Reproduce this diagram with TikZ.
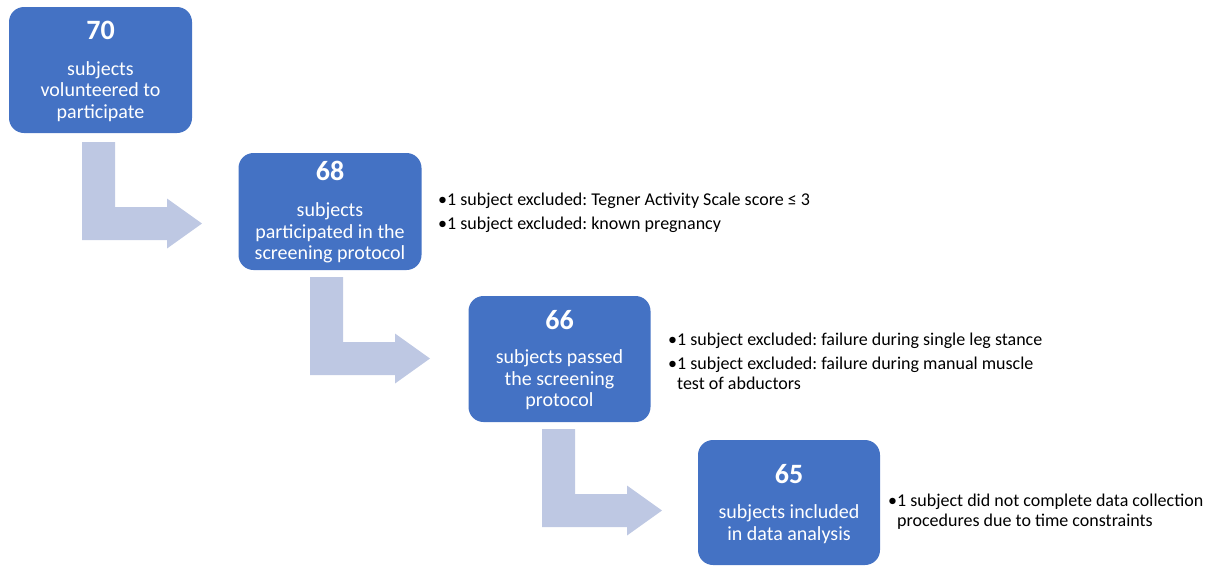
\documentclass[tikz,border=0pt]{standalone}
\usepackage{fontspec}
\setmainfont{Carlito}
\frenchspacing
\definecolor{boxblue}{RGB}{68,114,196}
\definecolor{arrowblue}{RGB}{190,200,227}
\tikzset{
  x=1pt, y=-1pt,
  box/.style={draw=none, fill=boxblue, rounded corners=15pt, inner sep=0pt},
  num/.style={text=white, font=\fontsize{28}{32}\selectfont\bfseries, inner sep=0pt},
  desc/.style={text=white, font=\fontsize{20}{21.5}\selectfont, align=center, inner sep=0pt},
  side/.style={text=black, font=\fontsize{18}{20}\selectfont, align=left, inner sep=0pt, anchor=west},
  bentarrow/.pic={
    \fill[arrowblue] (0,0) -- (33,0) -- (33,65) -- (85,65) -- (85,56.5) -- (120,81.5)
      -- (85,106.5) -- (85,98) -- (0,98) -- cycle;
  }
}
\begin{document}
\begin{tikzpicture}
\useasboundingbox (0,0) rectangle (1215,565);
% boxes
\node[box, minimum width=183pt, minimum height=126pt] (b1) at (100.5,70) {};
\node[box, minimum width=183pt, minimum height=117pt] (b2) at (330,211.5) {};
\node[box, minimum width=182pt, minimum height=126pt] (b3) at (559.5,359) {};
\node[box, minimum width=182pt, minimum height=125pt] (b4) at (789,502.5) {};
% numbers
\node[num] (n1) at (100.5,30) {70};
\node[num] (n2) at (330,171) {68};
\node[num] (n3) at (559.5,320) {66};
\node[num] (n4) at (789,474) {65};
% descriptions
\node[desc] (d1) at (100.5,91.5) {subjects\\volunteered to\\participate};
\node[desc] (d2) at (330,233) {subjects\\participated in the\\screening protocol};
\node[desc] (d3) at (559.5,380) {subjects passed\\the screening\\protocol};
\node[desc] (d4) at (789,524) {subjects included\\in data analysis};
% bent arrows
\pic at (82,142) {bentarrow};
\pic at (310,277) {bentarrow};
\pic at (542,429) {bentarrow};
% side notes
\node[side] (s1) at (438,213) {•1 subject excluded: Tegner Activity Scale score ≤ 3\\[4pt]•1 subject excluded: known pregnancy};
\node[side] (s2) at (668,361) {•1 subject excluded: failure during single leg stance\\[4pt]•1 subject excluded: failure during manual muscle\\\hphantom{•}test of abductors};
\node[side] (s3) at (888,512) {•1 subject did not complete data collection\\\hphantom{•}procedures due to time constraints};
\end{tikzpicture}
\end{document}
